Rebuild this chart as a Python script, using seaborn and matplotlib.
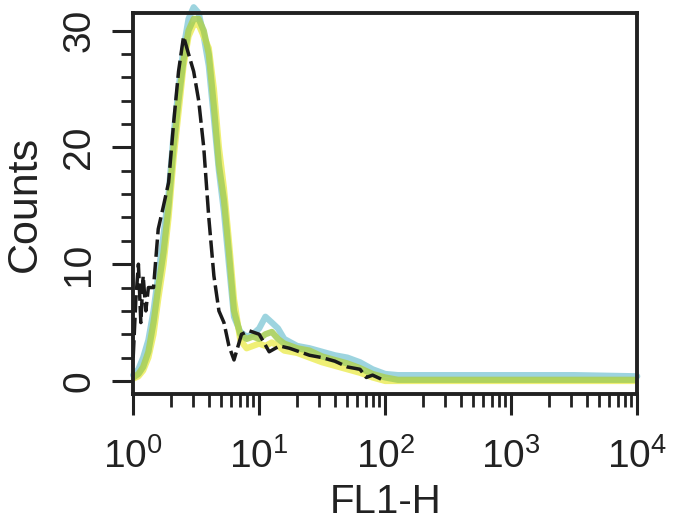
import pandas as pd
import matplotlib.pyplot as plt
import seaborn as sns
from matplotlib.ticker import LogLocator, NullFormatter

sns.set_theme(style="ticks")
plt.rcParams["font.family"] = ["Liberation Sans", "DejaVu Sans"]
plt.rcParams["mathtext.fontset"] = "custom"
plt.rcParams["mathtext.rm"] = "Liberation Sans"
plt.rcParams["mathtext.it"] = "Liberation Sans:italic"
plt.rcParams["mathtext.bf"] = "Liberation Sans:bold"

# ─────────────────────────────────────
# DATA (read off the histogram overlay)
# ─────────────────────────────────────

fl1_h = [1.00, 1.10, 1.20, 1.32, 1.45, 1.58, 1.74, 1.91, 2.09, 2.29, 2.51,
         2.75, 3.02, 3.31, 3.63, 3.98, 4.37, 4.79, 5.25, 5.75, 6.31,
         7.08, 7.94, 8.91, 10.0, 11.2, 12.6, 14.1, 15.8,
         20.0, 25.1, 31.6, 39.8, 50.1, 63.1, 79.4, 100, 126,
         316, 1000, 3162, 10000]

counts_cyan = [0.5, 1, 2, 3.5, 6, 9, 12.5, 16, 21, 25, 28.5,
               31, 32, 31.5, 29.5, 27, 22.5, 18, 14.5, 10, 5.5,
               4.2, 3.8, 4, 4.5, 5.5, 5.0, 4.5, 3.6,
               3.0, 2.8, 2.5, 2.2, 2.0, 1.6, 1.0, 0.6, 0.5,
               0.5, 0.5, 0.5, 0.4]

counts_yellow = [0.2, 0.4, 0.9, 2, 4, 7, 10, 14, 19, 23, 27,
                 29.5, 30.5, 30.5, 29.5, 28.5, 25, 20, 16.5, 12, 7,
                 3.5, 2.8, 3, 3.2, 3.0, 3.3, 3.0, 2.6,
                 2.4, 2.0, 1.6, 1.3, 1.0, 0.7, 0.3, 0.0, 0.0,
                 0.0, 0.0, 0.0, 0.0]

counts_green = [0.3, 0.6, 1.2, 2.5, 5, 8, 11, 15, 20, 24, 27.5,
                30, 31, 31, 30, 28, 23.5, 18.5, 15.5, 11, 6,
                4, 3.6, 3.8, 3.6, 4.0, 4.2, 3.6, 3.2,
                2.8, 2.6, 2.1, 1.8, 1.5, 1.1, 0.6, 0.3, 0.1,
                0.1, 0.1, 0.1, 0.1]

fl1_h_ctrl = [1.00, 1.05, 1.10, 1.15, 1.20, 1.26, 1.32, 1.45, 1.58, 1.74,
              1.91, 2.09, 2.29, 2.51, 2.75, 3.02, 3.31, 3.63, 3.98, 4.37,
              4.79, 5.25, 5.75, 6.31, 7.24, 8.32, 10.0, 12.0, 14.5, 17.4,
              20.9, 25.1, 31.6, 39.8, 50.1, 63.1, 70.8, 79.4, 100]

counts_ctrl = [2, 7, 10, 5, 9, 6, 8, 8, 13, 15,
               17, 22, 26.5, 29.5, 28, 26.5, 24, 20, 14, 9,
               6, 5, 3, 1.8, 4, 4.3, 4, 2.5, 3, 2.8,
               2.5, 2.2, 2, 1.7, 1.2, 1.0, 0.3, 0.5, 0]

x_ticks = [1, 10, 100, 1000, 10000]
x_ticklabels = [r"$10^{0}$", r"$10^{1}$", r"$10^{2}$", r"$10^{3}$", r"$10^{4}$"]
y_ticks = [0, 10, 20, 30]

# ─────────────────────────────────────
# PLOT
# ─────────────────────────────────────

fig = plt.figure(figsize=(6.83, 5.23), dpi=100)
ax = fig.add_axes([0.195, 0.247, 0.738, 0.728])
ax.set_facecolor("white")

sns.lineplot(x=fl1_h, y=counts_cyan, ax=ax, color="#93d0dc", lw=4.5,
             alpha=0.9, clip_on=False)
sns.lineplot(x=fl1_h, y=counts_yellow, ax=ax, color="#eeee66", lw=4.5,
             alpha=0.9)
sns.lineplot(x=fl1_h, y=counts_green, ax=ax, color="#a9d05c", lw=4.5,
             alpha=0.9)
sns.lineplot(x=fl1_h_ctrl, y=counts_ctrl, ax=ax, color="#1a1a1a", lw=2.5,
             linestyle=(0, (5, 1.5)))

ax.set_xscale("log")
ax.set_xlim(1, 10000)
ax.set_ylim(-1.1, 31.5)

ax.set_xticks(x_ticks)
ax.set_xticklabels(x_ticklabels)
ax.xaxis.set_minor_locator(LogLocator(base=10, subs=range(2, 10), numticks=20))
ax.xaxis.set_minor_formatter(NullFormatter())
ax.set_yticks(y_ticks)
ax.set_yticks(range(0, 32, 2), minor=True)
ax.set_yticklabels([str(v) for v in y_ticks], rotation=90, va="center")

ax.tick_params(axis="both", which="major", direction="out", length=15,
               width=2.2, color="#222222", labelsize=28, labelcolor="#222222")
ax.tick_params(axis="both", which="minor", direction="out", length=9,
               width=2.0, color="#222222", bottom=True, left=True)
ax.tick_params(axis="x", which="major", pad=17)
ax.tick_params(axis="y", which="major", pad=11)

for side in ["left", "right", "top", "bottom"]:
    ax.spines[side].set_visible(True)
    ax.spines[side].set_linewidth(2.8)
    ax.spines[side].set_color("#222222")

ax.set_xlabel("FL1-H", fontsize=29, labelpad=5, color="#222222")
ax.set_ylabel("Counts", fontsize=31, labelpad=12, color="#222222")

plt.savefig("out.png", dpi=100, facecolor="white")
plt.close()
